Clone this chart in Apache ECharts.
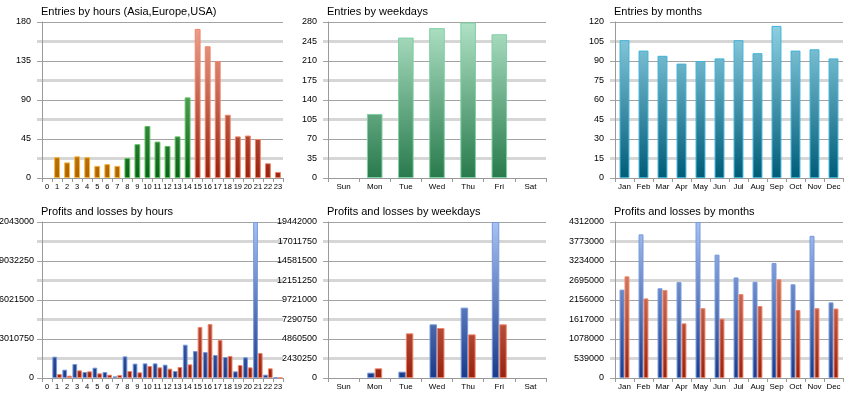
<!DOCTYPE html>
<html><head><meta charset="utf-8">
<script src="https://cdn.jsdelivr.net/npm/echarts@6/dist/echarts.min.js"></script>
<style>html,body{margin:0;padding:0;background:#fff}#c{width:860px;height:400px}</style>
</head><body><div id="c"></div>
<script>
// ---------- data ----------
const hours = ['0','1','2','3','4','5','6','7','8','9','10','11','12','13','14','15','16','17','18','19','20','21','22','23'];
const hourRegion = ['Asia','Asia','Asia','Asia','Asia','Asia','Asia','Asia','Europe','Europe','Europe','Europe','Europe','Europe','Europe','USA','USA','USA','USA','USA','USA','USA','USA','USA'];
const weekdays = ['Sun','Mon','Tue','Wed','Thu','Fri','Sat'];
const months = ['Jan','Feb','Mar','Apr','May','Jun','Jul','Aug','Sep','Oct','Nov','Dec'];

const entriesByHour = [0,24,18,25,24,14,16,14,23,39,60,42,37,48,93,172,152,135,73,48,49,45,17,7];
const entriesByWeekday = [0,115,252,269,279,258,0];
const entriesByMonth = [106,98,94,88,90,92,106,96,117,98,99,92];

const profitByHour = [0,1647000,643000,1080000,463000,798000,463000,129000,1670000,1110000,1130000,1130000,1030000,540000,2570000,2080000,2000000,1780000,1620000,515000,1600000,12043000,257000,50000];
const lossByHour   = [0,309000,180000,592000,515000,360000,257000,232000,540000,437000,926000,823000,720000,849000,1055000,3940000,4170000,2930000,1700000,1000000,823000,1930000,746000,20000];
const profitByWeekday = [0,665000,789000,6690000,8770000,19442000,0];
const lossByWeekday   = [0,1205000,5567000,6230000,5440000,6690000,0];
const profitByMonth = [2442000,3970000,2480000,2650000,4312000,3410000,2780000,2660000,3180000,2590000,3930000,2090000];
const lossByMonth   = [2810000,2200000,2430000,1510000,1930000,1640000,2320000,1990000,2730000,1880000,1930000,1920000];

// tick labels (y axes)
const ticksEntriesHour = [0,45,90,135,180];
const ticksEntriesWeekday = [0,35,70,105,140,175,210,245,280];
const ticksEntriesMonth = [0,15,30,45,60,75,90,105,120];
const ticksPLHour = [0,3010750,6021500,9032250,12043000];
const ticksPLWeekday = [0,2430250,4860500,7290750,9721000,12151250,14581500,17011750,19442000];
const ticksPLMonth = [0,539000,1078000,1617000,2156000,2695000,3234000,3773000,4312000];

const titles = ['Entries by hours (Asia,Europe,USA)','Entries by weekdays','Entries by months',
                'Profits and losses by hours','Profits and losses by weekdays','Profits and losses by months'];

// ---------- layout / styling ----------
const FONT = 'Liberation Sans, Arial, sans-serif';
const cols = [{l:42,r:283},{l:328,r:546},{l:615,r:843}];
const rows = [{t:22,b:178},{t:222,b:378}];
const DARK = '#a3a3a3', LIGHT = '#d6d6d6', AXIS = '#999999';

const pal = {
  Asia:   {top:'#f9c86e', bot:'#ae6200', border:'#f4b43e'},
  Europe: {top:'#8fd08f', bot:'#086216', border:'#5cbf5c'},
  USA:    {top:'#f0a48e', bot:'#98220e', border:'#ef8468'},
  week:   {top:'#b0e2c6', bot:'#287a4c', border:'#7fd0a4'},
  month:  {top:'#92d2e4', bot:'#005c78', border:'#3fb2d6'},
  profit: {top:'#a8c2f4', bot:'#1b3a88', border:'#7499dc'},
  loss:   {top:'#f0a48e', bot:'#98220e', border:'#ef8468'}
};
function grad(p, row){
  return new echarts.graphic.LinearGradient(0, row.t, 0, row.b, [{offset:0,color:p.top},{offset:1,color:p.bot}], true);
}

const panels = [
  {cats:hours, ticks:ticksEntriesHour, pattern:'A', row:0, col:0, xfs:7.5},
  {cats:weekdays, ticks:ticksEntriesWeekday, pattern:'B', row:0, col:1, xfs:8},
  {cats:months, ticks:ticksEntriesMonth, pattern:'B', row:0, col:2, xfs:8},
  {cats:hours, ticks:ticksPLHour, pattern:'A', row:1, col:0, xfs:7.5},
  {cats:weekdays, ticks:ticksPLWeekday, pattern:'B', row:1, col:1, xfs:8},
  {cats:months, ticks:ticksPLMonth, pattern:'B', row:1, col:2, xfs:8}
];

const grid = [], xAxis = [], yAxis = [], title = [];
panels.forEach((p, i) => {
  const c = cols[p.col], r = rows[p.row];
  grid.push({left:c.l, top:r.t, width:c.r - c.l, height:r.b - r.t, containLabel:false, outerBoundsMode:'none'});
  title.push({text:titles[i], left:c.l - 1, top:r.t - 16, padding:0,
    textStyle:{fontFamily:FONT, fontSize:11, fontWeight:'normal', color:'#000'}});
  xAxis.push({type:'category', gridIndex:i, data:p.cats, boundaryGap:true,
    axisLine:{show:true, lineStyle:{color:AXIS, width:1}},
    axisTick:{show:true, length:4, lineStyle:{color:AXIS}},
    axisLabel:{interval:0, hideOverlap:false, fontSize:p.xfs, margin:5, color:'#000', fontFamily:FONT},
    splitLine:{show:false}});
  const max = p.ticks[p.ticks.length - 1];
  const labelStep = p.ticks[1] - p.ticks[0];
  const darkStep = p.pattern === 'A' ? labelStep : labelStep * 2;
  // axis drawing the gridlines
  yAxis.push({type:'value', gridIndex:i, position:'left', min:0, max:max, interval:darkStep,
    axisLine:{show:true, lineStyle:{color:AXIS, width:1}},
    axisTick:{show:true, length:5, lineStyle:{color:DARK}},
    axisLabel:{show:false},
    splitLine:{show:true, lineStyle:{color:DARK, width:1}},
    minorTick:{show:true, splitNumber:2, length:5, lineStyle:{color:LIGHT, width:3}},
    minorSplitLine:{show:true, lineStyle:{color:LIGHT, width:3}}});
  // axis carrying the labels
  yAxis.push({type:'value', gridIndex:i, position:'left', min:0, max:max, interval:labelStep,
    axisLine:{show:false}, axisTick:{show:false}, splitLine:{show:false},
    axisLabel:{show:true, fontSize:9, margin:p.col === 0 && p.row === 1 ? 8 : 11, color:'#000', fontFamily:FONT,
      formatter: v => String(Math.round(v))}});
});

function itemsFor(values, pickPal, row){
  return values.map((v, k) => {
    const p = pickPal(k);
    return {value:v, itemStyle:{color:grad(p, row), borderColor:p.border, borderWidth: v > 0 ? 1 : 0}};
  });
}
function barSeries(idx, values, p, gap){
  const r = rows[panels[idx].row];
  return {type:'bar', xAxisIndex:idx, yAxisIndex:idx*2, barCategoryGap:gap, barGap:'0%',
    data: itemsFor(values, () => p, r)};
}

const series = [];
series.push({type:'bar', xAxisIndex:0, yAxisIndex:0, barCategoryGap:'42%',
  data: itemsFor(entriesByHour, k => pal[hourRegion[k]], rows[0])});
series.push(barSeries(1, entriesByWeekday, pal.week, '50%'));
series.push(barSeries(2, entriesByMonth, pal.month, '48%'));
series.push(barSeries(3, profitByHour, pal.profit, '6%'));
series.push(barSeries(3, lossByHour, pal.loss, '6%'));
series.push(barSeries(4, profitByWeekday, pal.profit, '52%'));
series.push(barSeries(4, lossByWeekday, pal.loss, '52%'));
series.push(barSeries(5, profitByMonth, pal.profit, '48%'));
series.push(barSeries(5, lossByMonth, pal.loss, '48%'));

const chart = echarts.init(document.getElementById('c'), null, {renderer:'canvas'});
chart.setOption({animation:false, backgroundColor:'#fff', title:title, grid:grid, xAxis:xAxis, yAxis:yAxis, series:series});
</script>
</body></html>
